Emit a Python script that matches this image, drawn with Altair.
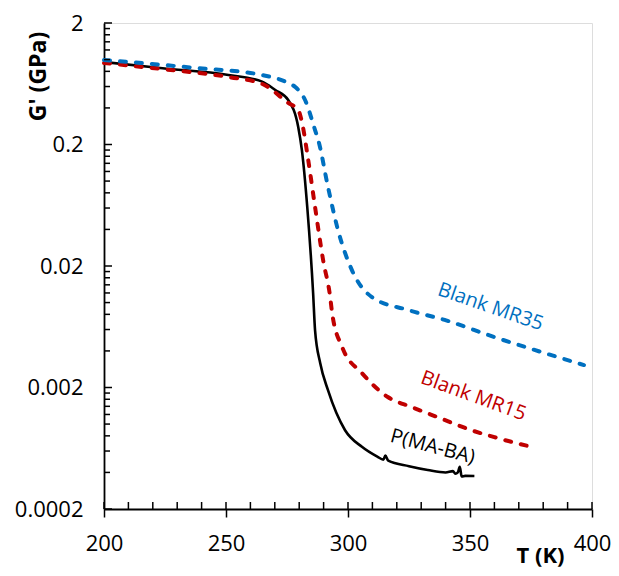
import altair as alt
import pandas as pd

# ---- data ----
T_black = [200, 224, 251, 264.8, 270.2, 275.5, 279.6, 281.1, 283.3, 285.7, 286.5, 288.6, 291.8, 298.8, 305.7, 312, 314.5, 315.3, 316.5, 325, 332.7, 340, 343, 344, 345, 345.8, 346.6, 348, 351.8]
G_black = [0.955, 0.848, 0.746, 0.658, 0.562, 0.465, 0.279, 0.18, 0.0612, 0.012, 0.0059, 0.00318, 0.0019, 0.00089, 0.00065, 0.00054, 0.00051, 0.00055, 0.0005, 0.00045, 0.000419, 0.0004, 0.00041, 0.00039, 0.0004, 0.000444, 0.00037, 0.000375, 0.000374]

T_red = [200, 225, 251, 264.9, 275.5, 279.6, 281.2, 283.7, 286.5, 289.8, 292.7, 293.5, 297.6, 305.7, 316.3, 326.1, 336.7, 350.6, 360, 375.1]
G_red = [0.937, 0.83, 0.719, 0.63, 0.44, 0.385, 0.30, 0.149, 0.0612, 0.0224, 0.0111, 0.0082, 0.0043, 0.00263, 0.00167, 0.00138, 0.00114, 0.00089, 0.00078, 0.00065]

T_blue = [200, 237.6, 264.9, 275.5, 278.4, 282.4, 286.5, 287.8, 291.8, 295.9, 301.6, 309.8, 324.5, 339.6, 360, 380.4, 396.7]
G_blue = [0.992, 0.853, 0.746, 0.642, 0.594, 0.465, 0.263, 0.218, 0.0894, 0.0395, 0.0185, 0.0111, 0.0087, 0.0072, 0.0052, 0.00385, 0.00306]

label_text = ["Blank MR35", "Blank MR15", "P(MA-BA)"]
label_T = [358.4, 351.4, 334.7]
label_G = [0.0092, 0.0017, 0.00065]
label_angle = [19, 20, 15]
label_color = ["#0070C0", "#C00000", "#000000"]

x_major = [200, 250, 300, 350, 400]
x_minor = [v for v in range(210, 400, 10) if v % 50 != 0]
y_major = [0.0002, 0.002, 0.02, 0.2, 2]
y_minor = []
for base in [0.0002, 0.002, 0.02, 0.2]:
    for m in [2, 3, 4, 5, 6, 7, 8, 9]:
        y_minor.append(round(base * m, 8))

W, H = 488, 486
FONT = "Open Sans"

xs = alt.Scale(domain=[200, 400], nice=False)
ys = alt.Scale(type="log", domain=[0.0002, 2], nice=False)

df_black = pd.DataFrame({"T": T_black, "G": G_black})
df_red = pd.DataFrame({"T": T_red, "G": G_red})
df_blue = pd.DataFrame({"T": T_blue, "G": G_blue})

xaxis = alt.Axis(values=x_major, tickSize=8, tickColor="black", tickWidth=1.5,
                 domainColor="black", domainWidth=1.8, grid=False, labelFlush=False,
                 labelFont=FONT, labelFontSize=22, labelColor="black", labelPadding=16,
                 title="T (K)", titleFont=FONT, titleFontSize=22, titleFontWeight="bold",
                 titleColor="black", titleX=436, titleY=53, titleAlign="center",
                 titleBaseline="alphabetic")
yaxis = alt.Axis(values=y_major, ticks=False, format="~g", labelFlush=False,
                 domainColor="black", domainWidth=1.8, grid=False,
                 labelFont=FONT, labelFontSize=22, labelColor="black", labelPadding=21,
                 title="G' (GPa)", titleFont=FONT, titleFontSize=23, titleFontWeight="bold",
                 titleColor="black", titleX=-66, titleY=53, titleAngle=270,
                 titleAlign="center", titleBaseline="middle")

black = alt.Chart(df_black).mark_line(color="black", strokeWidth=2.6, interpolate="monotone").encode(
    x=alt.X("T:Q", scale=xs, axis=xaxis),
    y=alt.Y("G:Q", scale=ys, axis=yaxis),
)
red = alt.Chart(df_red).mark_line(color="#C00000", strokeWidth=4, strokeDash=[6, 10], strokeCap="round",
                                  interpolate="monotone").encode(
    x=alt.X("T:Q", scale=xs), y=alt.Y("G:Q", scale=ys))
blue = alt.Chart(df_blue).mark_line(color="#0070C0", strokeWidth=4, strokeDash=[6, 10], strokeCap="round",
                                    interpolate="monotone").encode(
    x=alt.X("T:Q", scale=xs), y=alt.Y("G:Q", scale=ys))

df_lab = pd.DataFrame({"text": label_text, "T": label_T, "G": label_G,
                       "angle": label_angle, "color": label_color})
labels = alt.Chart(df_lab).mark_text(font=FONT, fontSize=20, align="center", baseline="middle").encode(
    x=alt.X("T:Q", scale=xs), y=alt.Y("G:Q", scale=ys),
    text="text:N", angle=alt.Angle("angle:Q", scale=None),
    color=alt.Color("color:N", scale=None),
)

xmin_df = pd.DataFrame({"v": x_minor})
xmaj_df = pd.DataFrame({"v": x_major})
ymin_df = pd.DataFrame({"v": y_minor})
ymaj_df = pd.DataFrame({"v": y_major})

xminor_rules = alt.Chart(xmin_df).mark_rule(color="black", strokeWidth=1.5).encode(
    x=alt.X("v:Q", scale=xs), y=alt.value(H), y2=alt.value(H - 7))
xmajor_rules = alt.Chart(xmaj_df).mark_rule(color="black", strokeWidth=1.5).encode(
    x=alt.X("v:Q", scale=xs), y=alt.value(H), y2=alt.value(H - 7))
yminor_rules = alt.Chart(ymin_df).mark_rule(color="black", strokeWidth=1.5).encode(
    y=alt.Y("v:Q", scale=ys), x=alt.value(0), x2=alt.value(6))
ymajor_rules = alt.Chart(ymaj_df).mark_rule(color="black", strokeWidth=1.5).encode(
    y=alt.Y("v:Q", scale=ys), x=alt.value(0), x2=alt.value(8))

chart = alt.layer(black, red, blue, labels, xminor_rules, xmajor_rules, yminor_rules, ymajor_rules).properties(
    width=W, height=H,
    autosize=alt.AutoSizeParams(type="none"),
    padding={"left": 96, "top": 15, "right": 19, "bottom": 59},
).configure_view(stroke="black", strokeWidth=1.5).configure(background="white")

chart.save("out.html", embed_options={"renderer": "svg", "actions": False})
